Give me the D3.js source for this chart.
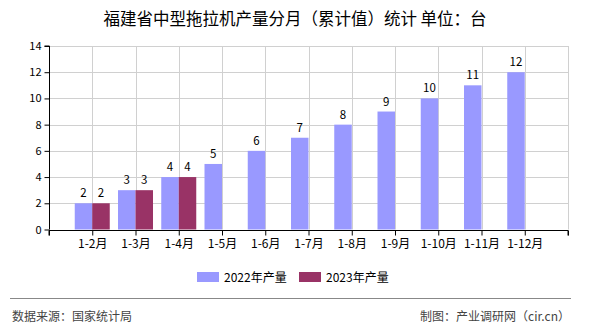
<!DOCTYPE html>
<html><head><meta charset="utf-8">
<script src="https://cdn.jsdelivr.net/npm/d3@7"></script>
<style>body{margin:0;background:#fff}svg{display:block}text{font-family:"Noto Sans CJK SC","DejaVu Sans",sans-serif}</style>
</head><body>
<script>
const categories=["1-2月","1-3月","1-4月","1-5月","1-6月","1-7月","1-8月","1-9月","1-10月","1-11月","1-12月"];
const values2022=[2,3,4,5,6,7,8,9,10,11,12];
const values2023=[2,3,4];
const seriesNames=["2022年产量","2023年产量"];
const colors=["#9999ff","#993366"];
const yTicks=[0,2,4,6,8,10,12,14];

const W=590,H=330;
const svg=d3.select("body").append("svg").attr("width",W).attr("height",H);
const L=49,R=568,T=46,B=229.5;
const x=d3.scaleLinear().domain([0,categories.length+1]).range([L,R]);
const y=d3.scaleLinear().domain([0,14]).range([B,T]);
const bw=17.5;

svg.append("text").attr("x",295).attr("y",25).attr("text-anchor","middle").attr("font-size",16.5).attr("fill","#000").text("福建省中型拖拉机产量分月（累计值）统计 单位：台");

// grid
const g=svg.append("g");
yTicks.forEach(t=>{g.append("line").attr("x1",L).attr("x2",R).attr("y1",Math.round(y(t))+0.5).attr("y2",Math.round(y(t))+0.5).attr("stroke","#d0d0d0");});
d3.range(1,categories.length+2).forEach(i=>{g.append("line").attr("x1",Math.round(x(i))+0.5).attr("x2",Math.round(x(i))+0.5).attr("y1",T).attr("y2",B).attr("stroke","#d0d0d0");});

// bars
const data=[values2022,values2023];
data.forEach((vals,s)=>{
  svg.append("g").selectAll("rect").data(vals).join("rect")
    .attr("x",(d,i)=>x(i+1)+(s===0?-bw:0))
    .attr("y",d=>y(d)).attr("width",bw).attr("height",d=>y(0)-y(d))
    .attr("fill",colors[s]);
  svg.append("g").selectAll("text").data(vals).join("text")
    .attr("x",(d,i)=>x(i+1)+(s===0?-bw/2:bw/2))
    .attr("y",d=>y(d)-6).attr("text-anchor","middle").attr("font-size",11.5).attr("fill","#000").attr("font-family","DejaVu Sans").text(d=>d);
});

// y axis
const ya=svg.append("g").attr("transform",`translate(${L+0.5},0)`)
  .call(d3.axisLeft(y).tickValues(yTicks).tickSize(5).tickPadding(3));
ya.select(".domain").attr("stroke","#000").attr("d",`M-5,${T}H0V${B}`);
ya.selectAll("text").attr("font-size",11).attr("fill","#000").attr("font-family","DejaVu Sans");
// x axis
const xa=svg.append("g").attr("transform",`translate(0,${Math.round(B)+0.5})`)
  .call(d3.axisBottom(x).tickValues(d3.range(0,categories.length+2)).tickSize(5).tickPadding(4).tickFormat(i=>categories[i-1]||""));
xa.select(".domain").attr("stroke","#000").attr("d",`M${L},5V0H${R}V5`);
xa.selectAll("text").attr("font-size",12).attr("fill","#000");

// legend
const lg=svg.append("g");
[[197,224],[299,326]].forEach((p,i)=>{
  lg.append("rect").attr("x",p[0]).attr("y",272).attr("width",22).attr("height",10).attr("fill",colors[i]);
  lg.append("text").attr("x",p[1]).attr("y",282).attr("font-size",12).attr("fill","#000").text(seriesNames[i]);
});

// footer
svg.append("line").attr("x1",10).attr("x2",571).attr("y1",298.5).attr("y2",298.5).attr("stroke","#888");
svg.append("text").attr("x",12).attr("y",321).attr("font-size",12).attr("fill","#444").text("数据来源：国家统计局");
svg.append("text").attr("x",570).attr("y",321).attr("text-anchor","end").attr("font-size",12).attr("fill","#444").text("制图：产业调研网（cir.cn）");
</script>
</body></html>
